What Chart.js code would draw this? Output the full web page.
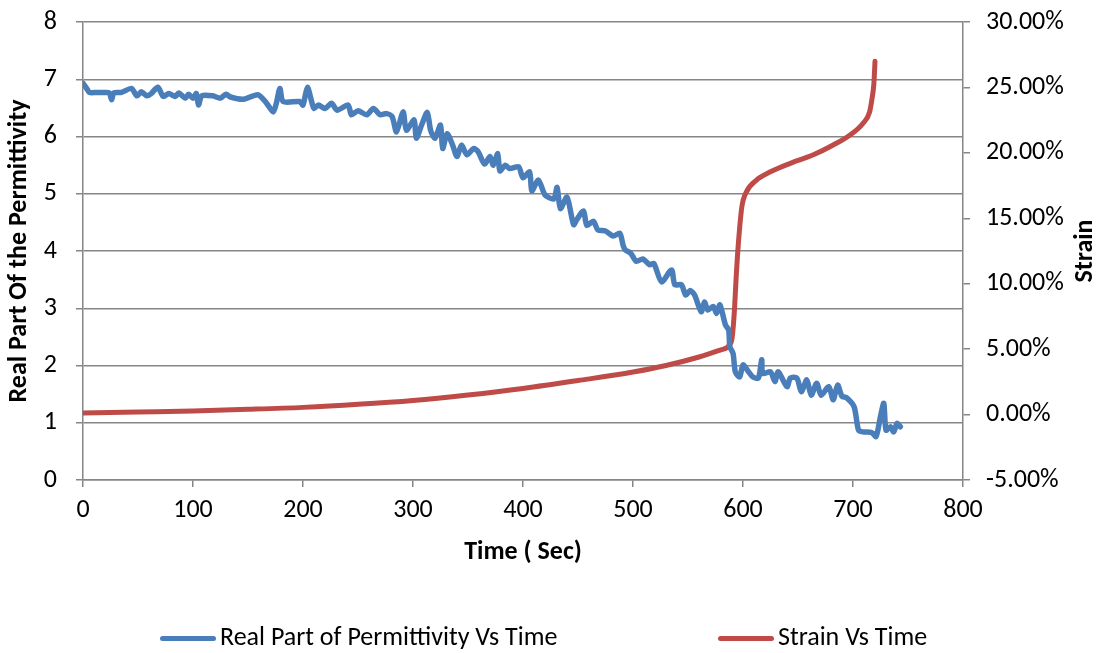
<!DOCTYPE html>
<html>
<head>
<meta charset="utf-8">
<script src="https://cdn.jsdelivr.net/npm/chart.js@4.4.0/dist/chart.umd.min.js"></script>
<style>
  html, body { margin: 0; padding: 0; background: #fff; }
  #wrap { position: relative; width: 1099px; height: 653px; }
  #legend { position: absolute; left: 0; top: 621px; width: 1099px; height: 30px;
            font-family: Calibri, Carlito, "Liberation Sans", sans-serif; font-size: 26px; color: #000; }
  .item { position: absolute; top: 0; white-space: nowrap; line-height: 30px; }
  .swatch { display: inline-block; width: 56px; height: 5px; border-radius: 3px; vertical-align: middle; margin-right: 4px; }
</style>
</head>
<body>
<div id="wrap">
  <canvas id="chart" width="1099" height="653"></canvas>
  <div id="legend">
    <div class="item" style="left:160px"><span class="swatch" style="background:#4A7EBB"></span>Real Part of Permittivity Vs Time</div>
    <div class="item" style="left:718px"><span class="swatch" style="background:#BE4B48"></span>Strain Vs Time</div>
  </div>
</div>
<script>
// permittivity readings (time in sec, value)
const permTime = [0, 3, 6, 12, 20, 24, 26, 28, 35, 44, 49, 53, 58, 62, 68, 73, 78, 84, 87, 93,
    96, 100, 103, 105, 108, 118, 125, 130, 134, 146, 159, 167, 173, 176, 179, 182, 197, 200, 204, 208,
    210, 214, 220, 226, 231, 241, 244, 250, 258, 264, 270, 276, 281, 285, 291, 294, 301, 303, 308, 313,
    316, 320, 325, 327, 331, 336, 340, 344, 349, 355, 359, 365, 370, 373, 377, 379, 384, 388, 396, 400,
    406, 408, 414, 420, 428, 431, 434, 440, 446, 449, 455, 458, 464, 468, 475, 482, 488, 491, 493, 498,
    503, 509, 515, 519, 526, 535, 538, 544, 548, 552, 556, 562, 565, 568, 573, 576, 579, 584, 587, 588,
    591, 593, 597, 600, 605, 609, 614, 617, 618, 625, 629, 632, 640, 643, 649, 653, 658, 662, 667, 671,
    678, 682, 686, 690, 694, 701, 705, 709, 717, 721, 725, 728, 730, 734, 737, 740, 743];
const permValue = [6.93, 6.85, 6.77, 6.77, 6.77, 6.76, 6.64, 6.76, 6.77, 6.84, 6.71, 6.78, 6.71, 6.75, 6.86, 6.70, 6.75, 6.70, 6.76, 6.67,
    6.74, 6.67, 6.75, 6.55, 6.71, 6.71, 6.67, 6.74, 6.69, 6.65, 6.73, 6.58, 6.43, 6.60, 6.84, 6.61, 6.61, 6.55, 6.86, 6.60,
    6.49, 6.55, 6.49, 6.58, 6.46, 6.55, 6.38, 6.45, 6.38, 6.49, 6.38, 6.40, 6.35, 6.08, 6.43, 6.11, 6.29, 5.97, 6.21, 6.42,
    6.11, 5.97, 6.20, 5.79, 6.05, 5.85, 5.65, 5.85, 5.68, 5.79, 5.74, 5.52, 5.65, 5.50, 5.70, 5.40, 5.50, 5.44, 5.47, 5.28,
    5.38, 5.05, 5.24, 4.98, 4.91, 5.11, 4.74, 4.94, 4.46, 4.55, 4.70, 4.45, 4.52, 4.37, 4.35, 4.26, 4.31, 4.10, 4.02, 3.96,
    3.82, 3.86, 3.76, 3.78, 3.46, 3.67, 3.41, 3.41, 3.23, 3.31, 3.23, 2.94, 3.11, 2.97, 3.03, 2.91, 3.06, 2.71, 2.62, 2.33,
    2.21, 1.89, 1.80, 2.01, 1.89, 1.80, 1.78, 2.10, 1.86, 1.89, 1.72, 1.89, 1.63, 1.78, 1.78, 1.54, 1.75, 1.48, 1.69, 1.48,
    1.63, 1.40, 1.66, 1.46, 1.44, 1.28, 0.87, 0.84, 0.83, 0.76, 1.11, 1.34, 0.87, 0.93, 0.84, 0.99, 0.93];

// strain readings (time in sec, percent)
const strainTime = [0, 50, 100, 150, 200, 250, 300, 350, 400, 450, 500, 530, 560, 580, 585, 588, 590, 592, 594, 596,
    599, 603, 612, 625, 643, 664, 682, 697, 709, 715, 717, 719, 720];
const strainValue = [0.12, 0.20, 0.28, 0.40, 0.55, 0.78, 1.08, 1.50, 2.00, 2.60, 3.25, 3.75, 4.40, 4.95, 5.10, 5.35, 5.80, 7.70, 10.80, 13.30,
    15.90, 17.00, 17.90, 18.55, 19.20, 19.85, 20.60, 21.35, 22.25, 23.10, 24.00, 25.30, 27.00];

const leftTicks = [0, 1, 2, 3, 4, 5, 6, 7, 8];
const rightTicks = [-5, 0, 5, 10, 15, 20, 25, 30];
const timeTicks = [0, 100, 200, 300, 400, 500, 600, 700, 800];

const FONT = 'Calibri, Carlito, "Liberation Sans", sans-serif';
const GRID = '#868686';

const permData = permTime.map((t, i) => ({ x: t, y: permValue[i] }));
const strainData = strainTime.map((t, i) => ({ x: t, y: strainValue[i] }));

// right axis title reads bottom-to-top, so draw it here
const strainTitle = {
    id: 'strainTitle',
    afterDraw(chart) {
        const ctx = chart.ctx;
        const area = chart.chartArea;
        ctx.save();
        ctx.translate(1085, (area.top + area.bottom) / 2);
        ctx.rotate(-Math.PI / 2);
        ctx.font = 'bold 26px ' + FONT;
        ctx.fillStyle = '#000';
        ctx.textAlign = 'center';
        ctx.textBaseline = 'middle';
        ctx.fillText('Strain', 0, 0);
        ctx.restore();
    }
};

// fixed axis box sizes so the plot area lands where the original has it
function fixY(width) {
    return s => { s.width = width; s.paddingTop = 0; s.paddingBottom = 0; };
}

new Chart(document.getElementById('chart'), {
    type: 'line',
    data: {
        datasets: [{
            label: 'Real Part of Permittivity Vs Time',
            data: permData,
            borderColor: '#4A7EBB',
            borderWidth: 5.5,
            pointRadius: 0,
            tension: 0.25,
            borderCapStyle: 'round',
            borderJoinStyle: 'round',
            yAxisID: 'y'
        }, {
            label: 'Strain Vs Time',
            data: strainData,
            borderColor: '#BE4B48',
            borderWidth: 5,
            pointRadius: 0,
            cubicInterpolationMode: 'monotone',
            borderCapStyle: 'round',
            borderJoinStyle: 'round',
            yAxisID: 'y1'
        }]
    },
    options: {
        responsive: false,
        animation: false,
        layout: { padding: { top: 22, bottom: 85, left: 0, right: 0 } },
        plugins: {
            legend: { display: false },
            tooltip: { enabled: false }
        },
        scales: {
            x: {
                type: 'linear',
                min: 0,
                max: 800,
                afterBuildTicks: s => { s.ticks = timeTicks.map(v => ({ value: v })); },
                afterFit: s => { s.height = 88; },
                grid: { drawOnChartArea: false, drawTicks: true, tickLength: 7, color: GRID, lineWidth: 1.5 },
                border: { color: GRID, width: 1.5 },
                ticks: { color: '#000', font: { family: FONT, size: 26 }, padding: 8, maxRotation: 0 },
                title: { display: true, text: 'Time ( Sec)', color: '#000', font: { family: FONT, size: 26, weight: 'bold' }, padding: { top: 0, bottom: 0 } }
            },
            y: {
                position: 'left',
                min: 0,
                max: 8,
                afterBuildTicks: s => { s.ticks = leftTicks.map(v => ({ value: v })); },
                afterFit: fixY(83),
                grid: { color: GRID, lineWidth: 1.5, tickLength: 7 },
                border: { color: GRID, width: 1.5 },
                ticks: { color: '#000', font: { family: FONT, size: 26 }, padding: 19 },
                title: { display: true, text: 'Real Part Of the Permittivity', color: '#000', font: { family: FONT, size: 26, weight: 'bold' }, padding: { top: 4, bottom: 0 } }
            },
            y1: {
                position: 'right',
                min: -5,
                max: 30,
                afterBuildTicks: s => { s.ticks = rightTicks.map(v => ({ value: v })); },
                afterFit: fixY(136),
                grid: { drawOnChartArea: false, tickLength: 7, color: GRID, lineWidth: 1.5 },
                border: { color: GRID, width: 1.5 },
                ticks: { color: '#000', font: { family: FONT, size: 26 }, padding: 16, callback: v => v.toFixed(2) + '%' }
            }
        }
    },
    plugins: [strainTitle]
});
</script>
</body>
</html>
